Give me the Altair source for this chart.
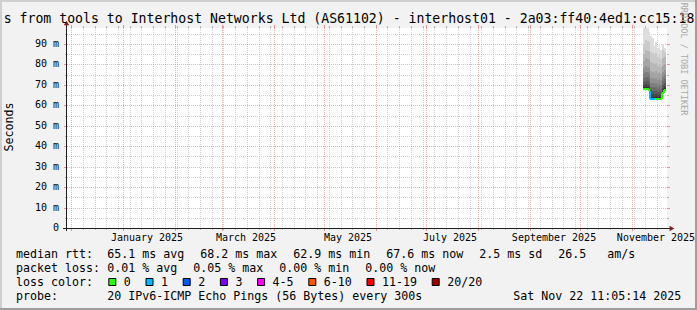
import altair as alt
import pandas as pd

# ---------------- layout constants ----------------
W, H = 600, 200          # canvas (plot area) size
OX, OY = 67, 28          # page position of canvas origin
PAGE_W, PAGE_H = 697, 310
MONO = "DejaVu Sans Mono"
CW = 7.0                 # legend char advance (px)
LEG = 11.63              # legend font size

# ---------------- data ----------------
TITLE = "s from tools to Interhost Networks Ltd (AS61102) - interhost01 - 2a03:ff40:4ed1:cc15:18"
X_DOMAIN = ["2024-11-28T13:10:00", "2025-11-21T23:15:00"]
Y_DOMAIN = [0, 97.85]

y_major = [0, 10, 20, 30, 40, 50, 60, 70, 80, 90]
y_minor = [5, 15, 25, 35, 45, 55, 65, 75, 85, 95]
y_labels = ["0\u00a0\u00a0", "10 m", "20 m", "30 m", "40 m", "50 m", "60 m", "70 m", "80 m", "90 m"]

month_starts = ["2024-12-01", "2025-01-01", "2025-02-01", "2025-03-01", "2025-04-01",
                "2025-05-01", "2025-06-01", "2025-07-01", "2025-08-01", "2025-09-01",
                "2025-10-01", "2025-11-01"]
week_starts = [d.strftime("%Y-%m-%d") for d in pd.date_range("2024-12-01", "2025-11-21", freq="7D")]
month_label_dates = ["2025-01-15T12:00:00", "2025-03-15T12:00:00", "2025-05-15T12:00:00",
                     "2025-07-15T12:00:00", "2025-09-15T12:00:00", "2025-11-15T12:00:00"]
month_label_texts = ["January 2025", "March 2025", "May 2025", "July 2025",
                     "September 2025", "November 2025"]

# smoke steps: edges, median, loss, 20 sorted pings per step (ms)
step_edges = ["2025-11-07T18:00:00", "2025-11-09T00:00:00", "2025-11-10T00:00:00",
              "2025-11-11T00:00:00", "2025-11-12T00:00:00", "2025-11-13T00:00:00",
              "2025-11-14T00:00:00", "2025-11-15T00:00:00", "2025-11-16T00:00:00",
              "2025-11-17T00:00:00", "2025-11-18T00:00:00", "2025-11-19T00:00:00",
              "2025-11-20T00:00:00", "2025-11-21T02:00:00"]
median = [68.1, 68.1, 68.1, 67.2, 63.2, 63.2, 63.2, 63.2, 63.2, 63.2, 63.2, 66.2, 67.6]
loss = [0, 0, 0, 0, 1, 1, 1, 0, 0, 0, 0, 0, 0]
pings = [
    [67.4, 67.6, 67.8, 67.9, 68.0, 68.0, 68.1, 68.1, 68.1, 68.1, 68.8, 70.0, 71.5, 73.5, 76.0, 78.5, 81.5, 85.0, 90.0, 101.0],
    [67.5, 67.7, 67.8, 67.9, 68.0, 68.0, 68.1, 68.1, 68.1, 68.1, 69.0, 70.5, 72.0, 74.0, 76.5, 79.5, 83.0, 87.0, 92.0, 101.0],
    [67.4, 67.6, 67.8, 67.9, 68.0, 68.0, 68.1, 68.1, 68.1, 68.1, 68.9, 70.2, 71.8, 73.8, 76.2, 79.0, 82.5, 86.5, 91.5, 100.0],
    [66.5, 66.7, 66.9, 67.0, 67.1, 67.1, 67.2, 67.2, 67.2, 67.2, 68.2, 69.5, 71.0, 73.0, 75.5, 78.5, 82.0, 86.0, 91.0, 96.0],
    [62.7, 62.8, 62.9, 63.0, 63.1, 63.1, 63.2, 63.2, 63.2, 63.2, 64.5, 66.0, 67.5, 69.0, 71.0, 73.5, 77.0, 81.0, 86.0, 94.0],
    [62.7, 62.8, 62.9, 63.0, 63.1, 63.1, 63.2, 63.2, 63.2, 63.2, 64.3, 65.8, 67.2, 68.8, 70.8, 73.2, 76.5, 80.5, 85.5, 93.0],
    [62.7, 62.8, 62.9, 63.0, 63.1, 63.1, 63.2, 63.2, 63.2, 63.2, 64.0, 65.3, 66.8, 68.5, 70.5, 73.0, 76.0, 80.0, 84.5, 89.0],
    [62.7, 62.8, 62.9, 63.0, 63.1, 63.1, 63.2, 63.2, 63.2, 63.2, 64.2, 65.6, 67.0, 68.8, 70.8, 73.5, 76.8, 80.8, 85.5, 91.0],
    [62.7, 62.8, 62.9, 63.0, 63.1, 63.1, 63.2, 63.2, 63.2, 63.2, 64.0, 65.2, 66.6, 68.2, 70.2, 72.6, 75.6, 79.2, 83.5, 88.0],
    [62.7, 62.8, 62.9, 63.0, 63.1, 63.1, 63.2, 63.2, 63.2, 63.2, 64.2, 65.5, 67.0, 68.8, 70.8, 73.3, 76.5, 80.3, 85.0, 90.0],
    [62.7, 62.8, 62.9, 63.0, 63.1, 63.1, 63.2, 63.2, 63.2, 63.2, 64.0, 65.2, 66.5, 68.0, 70.0, 72.3, 75.2, 78.8, 82.8, 87.0],
    [65.7, 65.8, 65.9, 66.0, 66.1, 66.1, 66.2, 66.2, 66.2, 66.2, 67.2, 68.5, 70.0, 71.8, 74.0, 76.5, 79.5, 83.0, 87.0, 90.0],
    [67.1, 67.2, 67.3, 67.4, 67.5, 67.5, 67.6, 67.6, 67.6, 67.6, 68.5, 69.7, 71.0, 72.8, 74.8, 77.2, 80.0, 83.5, 86.0, 88.0],
]

loss_labels = ["0", "1", "2", "3", "4-5", "6-10", "11-19", "20/20"]
loss_colors = ["#26ff00", "#00b8ff", "#0059ff", "#7e00ff", "#ff00ff", "#ff5500", "#ff0000", "#a10000"]

median_items = ["65.1 ms avg", "68.2 ms max", "62.9 ms min", "67.6 ms now", "2.5 ms sd",
                "26.5\u00a0\u00a0\u00a0am/s"]
loss_items = ["0.01 % avg", "0.05 % max", "0.00 % min", "0.00 % now"]
probe_text = "20 IPv6-ICMP Echo Pings (56 Bytes) every 300s"
stamp_text = "Sat Nov 22 11:05:14 2025"
watermark = "RRDTOOL / TOBI OETIKER"


def loss_bin(n):
    if n <= 3:
        return loss_labels[n]
    if n <= 5:
        return "4-5"
    if n <= 10:
        return "6-10"
    if n <= 19:
        return "11-19"
    return "20/20"


# ---------------- scales ----------------
xs = alt.Scale(domain=X_DOMAIN, type="time", round=True)
ys = alt.Scale(domain=Y_DOMAIN, zero=False, nice=False, round=True)

GRID = "#8f8f8f"
MGRID = "#de4f4f"
GA, MA = 0.42, 0.45

layers = []


def one():
    return pd.DataFrame({"k": [0]})


def prect(x0, y0, x1, y1, color, **kw):
    return alt.Chart(one()).mark_rect(color=color, **kw).encode(
        x=alt.value(x0 - OX), x2=alt.value(x1 - OX), y=alt.value(y0 - OY), y2=alt.value(y1 - OY))


# frame (3d border of rrdtool)
layers.append(prect(0, 0, PAGE_W, 2, "#cfcfcf"))
layers.append(prect(0, 0, 2, PAGE_H, "#cfcfcf"))
layers.append(prect(0, PAGE_H - 2, PAGE_W, PAGE_H, "#9e9e9e"))
layers.append(prect(PAGE_W - 2, 0, PAGE_W, PAGE_H, "#9e9e9e"))

# minor grid (vertical: weeks, horizontal: 5 ms)
wk = pd.DataFrame({"d": [w + "T00:00:00" for w in week_starts if w not in month_starts]})
vx = dict(scale=xs, axis=None)
layers.append(alt.Chart(wk).mark_rule(color=GRID, opacity=GA, strokeDash=[1, 1], xOffset=0.5).encode(
    x=alt.X("d:T", **vx), y=alt.value(0), y2=alt.value(H)))
layers.append(alt.Chart(wk).mark_rule(color=GRID, opacity=GA + 0.2, xOffset=0.5).encode(
    x=alt.X("d:T", **vx), y=alt.value(H), y2=alt.value(H + 2)))
layers.append(alt.Chart(wk).mark_rule(color=GRID, opacity=GA + 0.2, xOffset=0.5).encode(
    x=alt.X("d:T", **vx), y=alt.value(-2), y2=alt.value(0)))
ymn = pd.DataFrame({"v": y_minor})
vy = dict(scale=ys, axis=None)
layers.append(alt.Chart(ymn).mark_rule(color=GRID, opacity=GA, strokeDash=[1, 1], yOffset=0.5).encode(
    y=alt.Y("v:Q", **vy), x=alt.value(0), x2=alt.value(W)))
layers.append(alt.Chart(ymn).mark_rule(color=GRID, opacity=GA + 0.2, yOffset=0.5).encode(
    y=alt.Y("v:Q", **vy), x=alt.value(-2), x2=alt.value(0)))
layers.append(alt.Chart(ymn).mark_rule(color=GRID, opacity=GA + 0.2, yOffset=0.5).encode(
    y=alt.Y("v:Q", **vy), x=alt.value(W), x2=alt.value(W + 2)))

# major grid (vertical: month starts, horizontal: 10 ms)
ms = pd.DataFrame({"d": [m + "T00:00:00" for m in month_starts]})
layers.append(alt.Chart(ms).mark_rule(color=MGRID, opacity=MA, strokeDash=[1, 1], xOffset=0.5).encode(
    x=alt.X("d:T", **vx), y=alt.value(0), y2=alt.value(H)))
layers.append(alt.Chart(ms).mark_rule(color=MGRID, opacity=MA + 0.15, xOffset=0.5).encode(
    x=alt.X("d:T", **vx), y=alt.value(H), y2=alt.value(H + 3)))
layers.append(alt.Chart(ms).mark_rule(color=MGRID, opacity=MA + 0.15, xOffset=0.5).encode(
    x=alt.X("d:T", **vx), y=alt.value(-3), y2=alt.value(0)))
ymj = pd.DataFrame({"v": y_major[1:]})
layers.append(alt.Chart(ymj).mark_rule(color=MGRID, opacity=MA, strokeDash=[1, 1], yOffset=0.5).encode(
    y=alt.Y("v:Q", **vy), x=alt.value(0), x2=alt.value(W)))
layers.append(alt.Chart(pd.DataFrame({"v": y_major})).mark_rule(color=MGRID, opacity=MA + 0.15, yOffset=0.5).encode(
    y=alt.Y("v:Q", **vy), x=alt.value(-3), x2=alt.value(0)))
layers.append(alt.Chart(ymj).mark_rule(color=MGRID, opacity=MA + 0.15, yOffset=0.5).encode(
    y=alt.Y("v:Q", **vy), x=alt.value(W), x2=alt.value(W + 3)))

# smoke: band k spans ping k .. ping (21-k), inner bands darker, drawn last
smoke_rows = []
for i, p in enumerate(pings):
    for k in range(10):
        smoke_rows.append({"t0": step_edges[i], "t1": step_edges[i + 1],
                           "lo": p[k], "hi": p[19 - k], "band": k + 1})
smoke = pd.DataFrame(smoke_rows).sort_values(["band", "t0"])
grays = ["#" + ("%02x" % (int(190 / 10 * (10 - b)) + 50)) * 3 for b in range(1, 11)]
gscale = alt.Scale(domain=list(range(1, 11)), range=grays)
layers.append(alt.Chart(smoke).mark_rect(clip=True, strokeWidth=0).encode(
    x=alt.X("t0:T", **vx), x2="t1:T",
    y=alt.Y("lo:Q", **vy), y2="hi:Q",
    fill=alt.Color("band:O", scale=gscale, legend=None)))

# median line coloured by loss
med = pd.DataFrame({"t0": step_edges[:-1], "t1": step_edges[1:], "med": median,
                    "prev": [median[0]] + median[:-1],
                    "lb": [loss_bin(n) for n in loss]})
cscale = alt.Scale(domain=loss_labels, range=loss_colors)
layers.append(alt.Chart(med).mark_rule(strokeWidth=2).encode(
    x=alt.X("t0:T", **vx), x2="t1:T",
    y=alt.Y("med:Q", **vy),
    color=alt.Color("lb:N", scale=cscale, legend=None)))
layers.append(alt.Chart(med).mark_rule(strokeWidth=2).encode(
    x=alt.X("t0:T", **vx),
    y=alt.Y("prev:Q", **vy), y2="med:Q",
    color=alt.Color("lb:N", scale=cscale, legend=None)))

# axes lines + arrows
AXC = "#1f1f1f"
layers.append(alt.Chart(one()).mark_rule(color=AXC).encode(
    x=alt.value(-4), x2=alt.value(W + 4), y=alt.value(H + 0.5)))
layers.append(alt.Chart(one()).mark_rule(color=AXC).encode(
    x=alt.value(-0.5), y=alt.value(H + 3), y2=alt.value(-3)))
layers.append(alt.Chart(one()).mark_point(
    shape="triangle-right", filled=True, color="#801f1f", size=30, opacity=1).encode(
    x=alt.value(W + 5), y=alt.value(H + 0.5)))
layers.append(alt.Chart(one()).mark_point(
    shape="triangle-up", filled=True, color="#801f1f", size=30, opacity=1).encode(
    x=alt.value(-0.5), y=alt.value(-5)))

# y labels
yl = pd.DataFrame({"v": y_major, "lab": y_labels})
layers.append(alt.Chart(yl).mark_text(font=MONO, fontSize=10, align="right", baseline="middle",
                                      color="#000000").encode(
    y=alt.Y("v:Q", **vy), x=alt.value(59 - OX), text="lab:N"))

# x labels
xl = pd.DataFrame({"d": month_label_dates, "lab": month_label_texts})
layers.append(alt.Chart(xl).mark_text(font=MONO, fontSize=10, align="center", baseline="alphabetic",
                                      color="#000000").encode(
    x=alt.X("d:T", **vx), y=alt.value(241 - OY), text="lab:N"))


def txt(s, px, py, size=LEG, align="left", baseline="alphabetic", angle=0, color="#000000"):
    return alt.Chart(pd.DataFrame({"t": [s]})).mark_text(
        font=MONO, fontSize=size, align=align, baseline=baseline, angle=angle, color=color).encode(
        x=alt.value(px - OX), y=alt.value(py - OY), text="t:N")


layers.append(txt(TITLE, 349, 23, size=13.2, align="center"))
layers.append(txt("Seconds", 10, 127, size=LEG, align="center", baseline="middle", angle=270))
layers.append(txt(watermark, 684, 59, size=8.5, align="center", baseline="middle", angle=90, color="#a8a8a8"))

# legend rows
B1, B2, B3, B4 = 258, 272, 286, 300
layers.append(txt("median rtt:", 16, B1))
x = 107.3
for s in median_items:
    layers.append(txt(s, x, B1))
    x += len(s) * CW + 16
layers.append(txt("packet loss:", 16, B2))
x = 107.3
for s in loss_items:
    layers.append(txt(s, x, B2))
    x += len(s) * CW + 16
layers.append(txt("loss color:", 16, B3))
bx = 108.3
for lab, col in zip(loss_labels, loss_colors):
    layers.append(alt.Chart(pd.DataFrame({"k": [lab]})).mark_rect(
        color=col, stroke="black", strokeWidth=1).encode(
        x=alt.value(bx + 0.5 - OX), x2=alt.value(bx + 7.5 - OX),
        y=alt.value(278.5 - OY), y2=alt.value(285.5 - OY)))
    lx = bx + 15.5
    layers.append(txt(lab, lx, B3))
    bx = lx + len(lab) * CW + 14.7
layers.append(txt("probe:", 16, B4))
layers.append(txt(probe_text, 107.3, B4))
layers.append(txt(stamp_text, 513.3, B4))

chart = alt.layer(*layers).properties(
    width=W, height=H,
    autosize=alt.AutoSizeParams(type="none"),
    padding={"left": OX, "top": OY, "right": PAGE_W - OX - W, "bottom": PAGE_H - OY - H},
    background="#f2f2f2",
).configure_view(fill="white", strokeWidth=0)

chart.save("out.html", embed_options={"renderer": "svg", "actions": False})
